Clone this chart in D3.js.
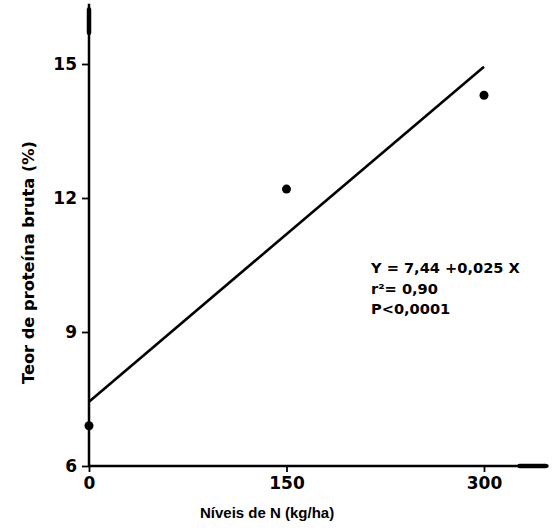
<!DOCTYPE html>
<html><head><meta charset="utf-8">
<script src="https://cdn.jsdelivr.net/npm/d3@7"></script>
<style>body{margin:0;background:#fff}text{font-family:"DejaVu Sans",Arial,sans-serif;font-weight:bold;fill:#000}</style>
</head><body><svg id="c" width="556" height="530"></svg>
<script>
const nLevels=[0,150,300];
const protein=[6.9,12.2,14.3];
const xTicks=[0,150,300];
const yTicks=[6,9,12,15];
const intercept=7.44, slope=0.025;
const eqLines=["Y = 7,44 +0,025 X","r²= 0,90","P<0,0001"];

const svg=d3.select("#c");
const x=d3.scaleLinear().domain([0,300]).range([89,484]);
const y=d3.scaleLinear().domain([6,15]).range([466,64]);

// axes
const xa=svg.append("g").attr("transform","translate(0,466)")
 .call(d3.axisBottom(x).tickValues(xTicks).tickSize(6).tickPadding(5).tickFormat(d3.format("d")));
const ya=svg.append("g").attr("transform","translate(89,0)")
 .call(d3.axisLeft(y).tickValues(yTicks).tickSize(7).tickPadding(5).tickFormat(d3.format("d")));
[xa,ya].forEach(a=>{a.select(".domain").remove();a.selectAll(".tick line").attr("stroke","#000").attr("stroke-width",1.8);
 a.selectAll(".tick text").style("font-size","17px").style("font-family","DejaVu Sans, Arial").style("font-weight","bold");});

// axis lines extended with arrow-like ends
svg.append("line").attr("x1",x(0)).attr("x2",x(349)).attr("y1",y(6)).attr("y2",y(6)).attr("stroke","#000").attr("stroke-width",2.5);
svg.append("line").attr("x1",x(0)).attr("x2",x(0)).attr("y1",y(6)).attr("y2",y(16.35)).attr("stroke","#000").attr("stroke-width",2.5);
svg.append("line").attr("x1",x(327)).attr("x2",x(347)).attr("y1",y(6)).attr("y2",y(6)).attr("stroke","#000").attr("stroke-width",4.5).attr("stroke-linecap","round");
svg.append("line").attr("x1",x(0)).attr("x2",x(0)).attr("y1",y(15.7)).attr("y2",y(16.22)).attr("stroke","#000").attr("stroke-width",4.5).attr("stroke-linecap","round");

// regression line
svg.append("line").attr("x1",x(0)).attr("y1",y(intercept)).attr("x2",x(300)).attr("y2",y(intercept+slope*300))
 .attr("stroke","#000").attr("stroke-width",2.6);

// points
svg.selectAll("circle").data(nLevels).join("circle")
 .attr("cx",(d)=>x(d)).attr("cy",(d,i)=>y(protein[i])).attr("r",4.5).attr("fill","#000");

// equation
svg.append("g").selectAll("text").data(eqLines).join("text")
 .attr("x",371).attr("y",(d,i)=>273+i*20.5).style("font-size","14.6px").text(d=>d);

// axis titles
svg.append("text").attr("x",200).attr("y",518)
 .style("font-size","15px").style("font-family","Liberation Sans, Arial").text("Níveis de N (kg/ha)");
svg.append("text").attr("transform","translate(34,384) rotate(-90)").attr("textLength",243).attr("lengthAdjust","spacingAndGlyphs")
 .style("font-size","15px").text("Teor de proteína bruta (%)");
</script></body></html>
